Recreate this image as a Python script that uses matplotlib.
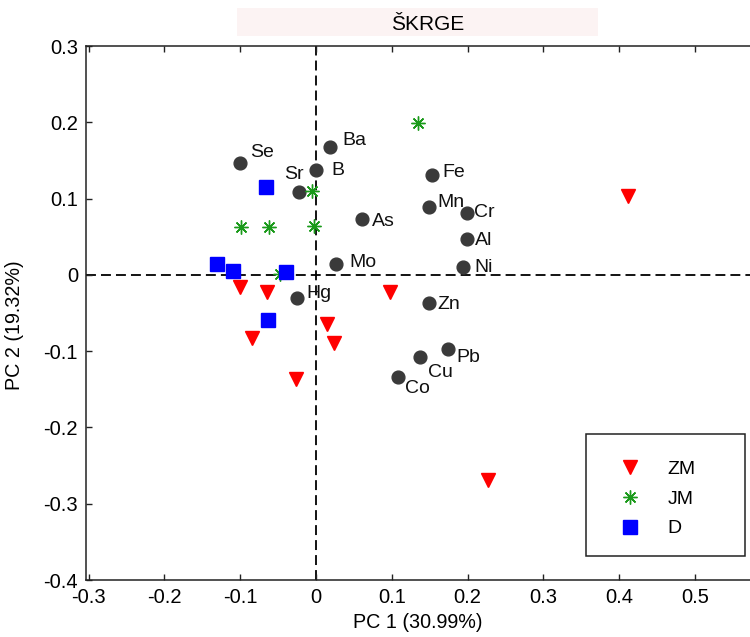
import matplotlib
matplotlib.use("Agg")
import matplotlib.pyplot as plt
from matplotlib.patches import Rectangle

plt.rcParams['font.family'] = ['Liberation Sans', 'DejaVu Sans']
plt.rcParams['axes.unicode_minus'] = False

# PCA loadings (variables)
var_names = ['Se', 'Ba', 'B', 'Sr', 'As', 'Mo', 'Hg', 'Fe', 'Mn', 'Cr',
             'Al', 'Ni', 'Zn', 'Pb', 'Cu', 'Co']
var_x = [-0.100, 0.0185, 0.000, -0.022, 0.061, 0.027, -0.025, 0.153, 0.149,
         0.199, 0.199, 0.194, 0.149, 0.1745, 0.137, 0.1086]
var_y = [0.147, 0.167, 0.138, 0.108, 0.073, 0.014, -0.030, 0.131, 0.0895,
         0.081, 0.0468, 0.0109, -0.0367, -0.0974, -0.108, -0.134]

# sample scores per group
zm_x = [-0.100, -0.064, 0.0976, 0.0141, -0.084, 0.0241, -0.0264, 0.412, 0.227]
zm_y = [-0.0161, -0.0219, -0.0219, -0.0642, -0.083, -0.0895, -0.1367, 0.1035, -0.2687]
jm_x = [0.135, -0.0057, -0.099, -0.062, -0.0022, -0.0475]
jm_y = [0.1988, 0.110, 0.0625, 0.0625, 0.0646, 0.0013]
d_x = [-0.066, -0.131, -0.110, -0.040, -0.0637]
d_y = [0.1157, 0.0144, 0.0056, 0.0043, -0.059]

group_labels = ['ZM', 'JM', 'D']
x_ticks = [-0.3, -0.2, -0.1, 0, 0.1, 0.2, 0.3, 0.4, 0.5]
y_ticks = [-0.4, -0.3, -0.2, -0.1, 0, 0.1, 0.2, 0.3]

# label offsets in pixels (right, up)
label_offsets = {'Se': (10, 10), 'Ba': (12, 7), 'B': (15, -1), 'Sr': (-15, 18),
                 'As': (10, -2), 'Mo': (13, 2), 'Hg': (9, 4), 'Fe': (10, 2),
                 'Mn': (8, 4), 'Cr': (7, 1), 'Al': (8, -1), 'Ni': (11, -1),
                 'Zn': (8, -2), 'Pb': (8, -8), 'Cu': (8, -15), 'Co': (7, -11)}

W, H = 750, 637
fig = plt.figure(figsize=(W / 100, H / 100), dpi=100)
ax = fig.add_axes([86 / W, 1 - 580 / H, 1 - 86 / W, 534 / H])

ax.axhline(0, color='black', lw=1.3, ls=(0, (5.5, 2.8)), zorder=1)
ax.axvline(0, color='black', lw=1.3, ls=(0, (5.5, 2.8)), zorder=1)

ax.plot(var_x, var_y, 'o', color='#3a3a3a', ms=9.2, mec='#3a3a3a', zorder=2)
for name, x, y in zip(var_names, var_x, var_y):
    dx, dy = label_offsets[name]
    ax.annotate(name, (x, y), xytext=(dx * 0.72, dy * 0.72), textcoords='offset points',
                ha='left', va='center', fontsize=14, color='#111111')

ax.plot(zm_x, zm_y, 'v', color='#ff0000', ms=10, mec='#ff0000', ls='none',
        label=group_labels[0], zorder=3)
ax.plot(jm_x, jm_y, marker=(8, 2, 0), color='#1a9a1a', ms=10, mew=1.0, ls='none',
        label=group_labels[1], zorder=4)
ax.plot(d_x, d_y, 's', color='#0000ff', ms=9.5, mec='#0000ff', ls='none',
        label=group_labels[2], zorder=5)

ax.set_xlim(-0.3034, 0.5726)
ax.set_ylim(-0.4, 0.3)
ax.set_xticks(x_ticks)
ax.set_yticks(y_ticks)
ax.set_xticklabels(['0' if v == 0 else f'{v:.1f}' for v in x_ticks])
ax.set_yticklabels(['0' if v == 0 else f'{v:.1f}' for v in y_ticks])
ax.tick_params(axis='x', direction='in', length=4.5, width=1, top=True,
               labelsize=14.5, pad=5.8, color='#222222')
ax.tick_params(axis='y', direction='in', length=4.5, width=1, right=False,
               labelsize=14.5, pad=5.8, color='#222222')
for side in ['left', 'bottom', 'top']:
    ax.spines[side].set_linewidth(1.1)
    ax.spines[side].set_color('#222222')
ax.spines['right'].set_visible(False)

# title band
fig.patches.append(Rectangle((237 / W, 1 - 36 / H), 361 / W, 28 / H,
                             transform=fig.transFigure, facecolor='#fcf3f3',
                             edgecolor='none'))
fig.text(428 / W, 1 - 25 / H, 'ŠKRGE', ha='center', va='center', fontsize=15)

fig.text(418 / W, 1 - 623 / H, 'PC 1 (30.99%)', ha='center', va='center', fontsize=14.2)
fig.text(14 / W, 1 - 325 / H, 'PC 2 (19.32%)', ha='center', va='center',
         rotation=90, fontsize=14.2)

# legend box
ax.add_patch(Rectangle((586 / W, 1 - 556 / H), 159 / W, 122 / H,
                       transform=fig.transFigure, facecolor='white',
                       edgecolor='#222222', lw=1.1, zorder=10, clip_on=False))
leg = ax.legend(loc='center left', bbox_to_anchor=(620 / W, 1 - 499 / H),
                bbox_transform=fig.transFigure, frameon=False, fontsize=14,
                handlelength=1.0, handletextpad=1.46, borderpad=0, borderaxespad=0,
                labelspacing=0.62, numpoints=1)
leg.set_zorder(11)

fig.savefig('out.png', dpi=100)
